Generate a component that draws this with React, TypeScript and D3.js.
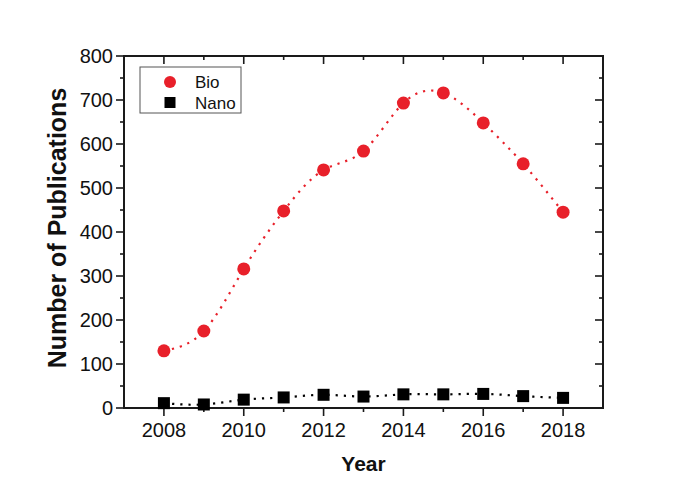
import { useEffect, useRef } from "react";
import * as d3 from "d3";

const years = [2008, 2009, 2010, 2011, 2012, 2013, 2014, 2015, 2016, 2017, 2018];
const bio = [130, 175, 316, 448, 541, 584, 693, 716, 648, 555, 445];
const nano = [11, 8, 19, 24, 30, 26, 31, 31, 32, 27, 23];
const xTickLabels = [2008, 2010, 2012, 2014, 2016, 2018];
const yTickLabels = [0, 100, 200, 300, 400, 500, 600, 700, 800];
const seriesNames = ["Bio", "Nano"];

export default function App() {
  const ref = useRef<SVGSVGElement | null>(null);

  useEffect(() => {
    if (!ref.current) return;
    const svg = d3.select(ref.current);
    svg.selectAll("*").remove();

    const width = 700;
    const height = 489;
    const margin = { top: 56, right: 97, bottom: 81, left: 124 };
    const font = "'Liberation Sans', Arial, sans-serif";
    const axisColor = "#1a1a1a";

    const x = d3
      .scaleLinear()
      .domain([2007, 2019])
      .range([margin.left, width - margin.right]);
    const y = d3
      .scaleLinear()
      .domain([0, 800])
      .range([height - margin.bottom, margin.top]);

    const g = svg.append("g");

    // MARK: ticks on all four sides
    const x0 = x.range()[0];
    const x1 = x.range()[1];
    const y0 = y.range()[0];
    const y1 = y.range()[1];
    const ticks = g.append("g").attr("stroke", axisColor).attr("stroke-width", 1.6);

    d3.range(2008, 2019).forEach((yr) => {
      const len = yr % 2 === 0 ? 8 : 4;
      // bottom (outward)
      ticks.append("line").attr("x1", x(yr)).attr("x2", x(yr)).attr("y1", y0).attr("y2", y0 + len);
      // top (inward)
      ticks.append("line").attr("x1", x(yr)).attr("x2", x(yr)).attr("y1", y1).attr("y2", y1 + len);
    });
    d3.range(0, 801, 50).forEach((v) => {
      const len = v % 100 === 0 ? 8 : 4;
      ticks.append("line").attr("x1", x0).attr("x2", x0 - len).attr("y1", y(v)).attr("y2", y(v));
      ticks.append("line").attr("x1", x1).attr("x2", x1 - len).attr("y1", y(v)).attr("y2", y(v));
    });

    // frame
    g.append("rect")
      .attr("x", x0)
      .attr("y", y1)
      .attr("width", x1 - x0)
      .attr("height", y0 - y1)
      .attr("fill", "none")
      .attr("stroke", axisColor)
      .attr("stroke-width", 2);

    // MARK: tick labels
    g.selectAll(".xl")
      .data(xTickLabels)
      .join("text")
      .attr("x", (d) => x(d))
      .attr("y", y0 + 29)
      .attr("text-anchor", "middle")
      .attr("font-family", font)
      .attr("font-size", 20)
      .attr("fill", "#111")
      .text((d) => d);

    g.selectAll(".yl")
      .data(yTickLabels)
      .join("text")
      .attr("x", x0 - 11)
      .attr("y", (d) => y(d))
      .attr("dy", "0.35em")
      .attr("text-anchor", "end")
      .attr("font-family", font)
      .attr("font-size", 20)
      .attr("fill", "#111")
      .text((d) => d);

    // axis titles
    g.append("text")
      .attr("x", (x0 + x1) / 2)
      .attr("y", 471)
      .attr("text-anchor", "middle")
      .attr("font-family", font)
      .attr("font-weight", "bold")
      .attr("font-size", 21)
      .attr("fill", "#111")
      .text("Year");

    g.append("text")
      .attr("transform", `translate(66,228) rotate(-90)`)
      .attr("text-anchor", "middle")
      .attr("font-family", font)
      .attr("font-weight", "bold")
      .attr("font-size", 25)
      .attr("fill", "#111")
      .text("Number of Publications");

    // MARK: spline lines
    const line = d3
      .line<number>()
      .x((_, i) => x(years[i]))
      .y((d) => y(d))
      .curve(d3.curveNatural);

    g.append("path")
      .attr("d", line(bio) || "")
      .attr("fill", "none")
      .attr("stroke", "#e8202a")
      .attr("stroke-width", 2.2)
      .attr("stroke-dasharray", "2.2,6");

    g.append("path")
      .attr("d", line(nano) || "")
      .attr("fill", "none")
      .attr("stroke", "#000")
      .attr("stroke-width", 2.2)
      .attr("stroke-dasharray", "2.2,6");

    // MARK: markers
    g.selectAll(".bio")
      .data(bio)
      .join("circle")
      .attr("cx", (_, i) => x(years[i]))
      .attr("cy", (d) => y(d))
      .attr("r", 6.5)
      .attr("fill", "#e8202a");

    const sq = 12;
    g.selectAll(".nano")
      .data(nano)
      .join("rect")
      .attr("x", (_, i) => x(years[i]) - sq / 2)
      .attr("y", (d) => y(d) - sq / 2)
      .attr("width", sq)
      .attr("height", sq)
      .attr("fill", "#000");

    // MARK: legend
    const legend = g.append("g").attr("transform", "translate(140,67)");
    legend
      .append("rect")
      .attr("width", 101)
      .attr("height", 46)
      .attr("fill", "#fff")
      .attr("stroke", "#555")
      .attr("stroke-width", 1);
    legend.append("circle").attr("cx", 30).attr("cy", 15).attr("r", 6).attr("fill", "#e8202a");
    legend.append("rect").attr("x", 24.5).attr("y", 30).attr("width", 11).attr("height", 11).attr("fill", "#000");
    seriesNames.forEach((name, i) => {
      legend
        .append("text")
        .attr("x", 55)
        .attr("y", 15 + i * 21)
        .attr("dy", "0.35em")
        .attr("font-family", font)
        .attr("font-size", 17)
        .attr("fill", "#111")
        .text(name);
    });
  }, []);

  return (
    <svg
      ref={ref}
      width={700}
      height={489}
      style={{ position: "absolute", left: 0, top: 0, background: "#fff" }}
    />
  );
}
